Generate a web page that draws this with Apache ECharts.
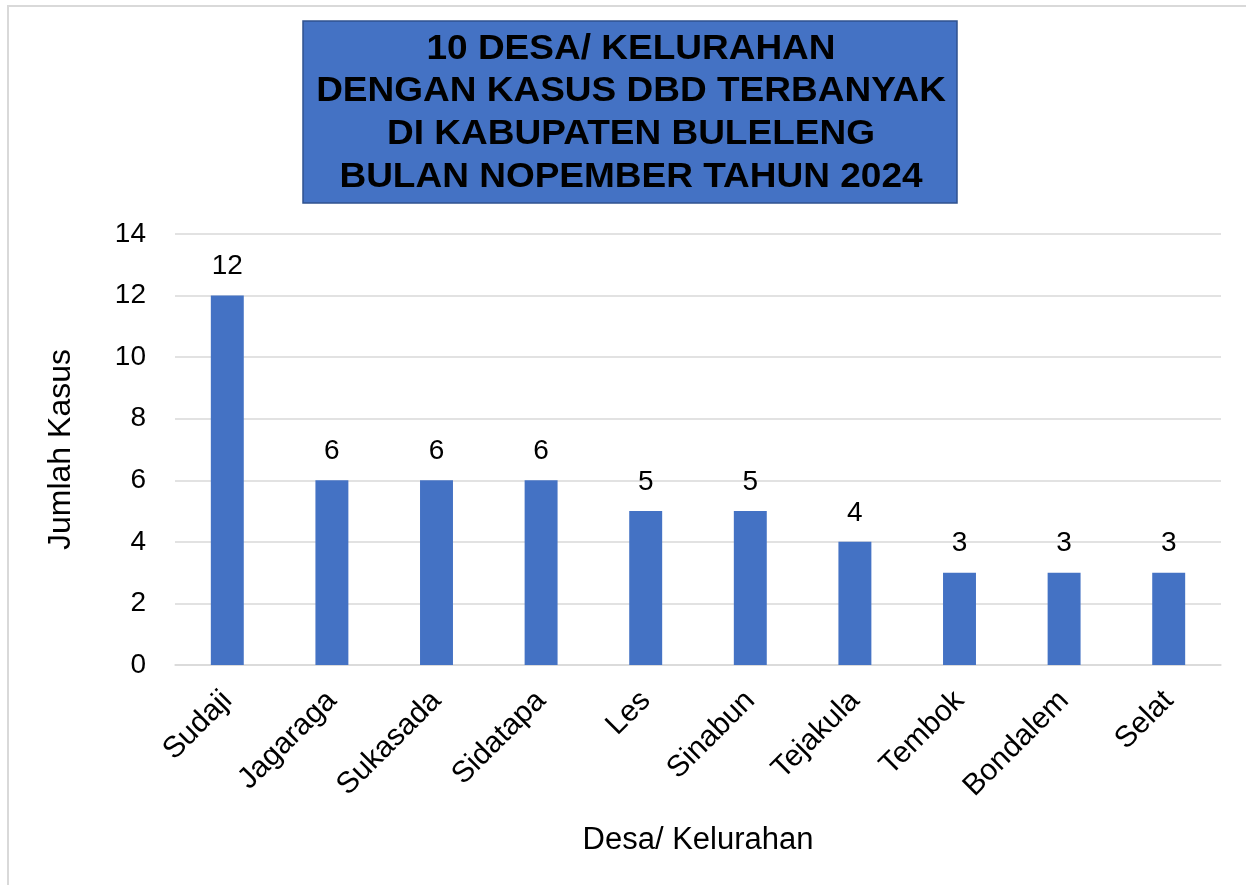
<!DOCTYPE html>
<html>
<head>
<meta charset="utf-8">
<script src="https://cdn.jsdelivr.net/npm/echarts@6/dist/echarts.min.js"></script>
<style>
html,body{margin:0;padding:0;background:#fff;}
#chart{width:1246px;height:885px;}
</style>
</head>
<body>
<div id="chart"></div>
<script>
const categories = ['Sudaji','Jagaraga','Sukasada','Sidatapa','Les','Sinabun','Tejakula','Tembok','Bondalem','Selat'];
const cases = [12,6,6,6,5,5,4,3,3,3];
const titleLines = ['10 DESA/ KELURAHAN','DENGAN KASUS DBD TERBANYAK','DI KABUPATEN BULELENG','BULAN NOPEMBER TAHUN 2024'];
const yAxisName = 'Jumlah Kasus';
const xAxisName = 'Desa/ Kelurahan';

const chart = echarts.init(document.getElementById('chart'));
const font = 'Liberation Sans, Arial, sans-serif';
chart.setOption({
  animation:false,
  backgroundColor:'#fff',
  graphic:[
    { type:'rect', shape:{x:8,y:6,width:1300,height:900},
      style:{fill:'none',stroke:'#D9D9D9',lineWidth:2}, silent:true, z:0 },
    { type:'rect', shape:{x:303,y:21,width:654,height:182},
      style:{fill:'#4472C4',stroke:'#2F528F',lineWidth:1.5}, silent:true, z:1 },
    { type:'text', x:631, y:113, scaleX:1, scaleY:0.95, z:2, silent:true,
      style:{text:titleLines.join('\n'), fill:'#000',
        font:'bold 37px "Liberation Sans", Arial, sans-serif',
        lineHeight:45, textAlign:'center', textVerticalAlign:'middle', verticalAlign:'middle', align:'center'} }
  ],
  grid:{left:175,right:25,top:234,bottom:220,containLabel:false},
  xAxis:{
    type:'category', data:categories,
    name:xAxisName, nameLocation:'middle', nameGap:160,
    nameTextStyle:{fontFamily:font,fontSize:31,color:'#000'},
    axisLine:{lineStyle:{color:'#D9D9D9',width:1.5}},
    axisTick:{show:false},
    axisLabel:{rotate:45,fontFamily:font,fontSize:30,color:'#000',margin:31,interval:0}
  },
  yAxis:{
    type:'value', min:0, max:14, interval:2,
    name:yAxisName, nameLocation:'middle', nameGap:98,
    nameTextStyle:{fontFamily:font,fontSize:32,color:'#000'},
    axisLine:{show:false}, axisTick:{show:false},
    axisLabel:{fontFamily:font,fontSize:28,color:'#000',margin:29},
    splitLine:{lineStyle:{color:'#D9D9D9',width:1.5}}
  },
  series:[{
    type:'bar', data:cases, barWidth:'31.5%',
    itemStyle:{color:'#4472C4'},
    label:{show:true,position:'top',distance:15,fontFamily:font,fontSize:28,color:'#000'}
  }]
});
</script>
</body>
</html>
